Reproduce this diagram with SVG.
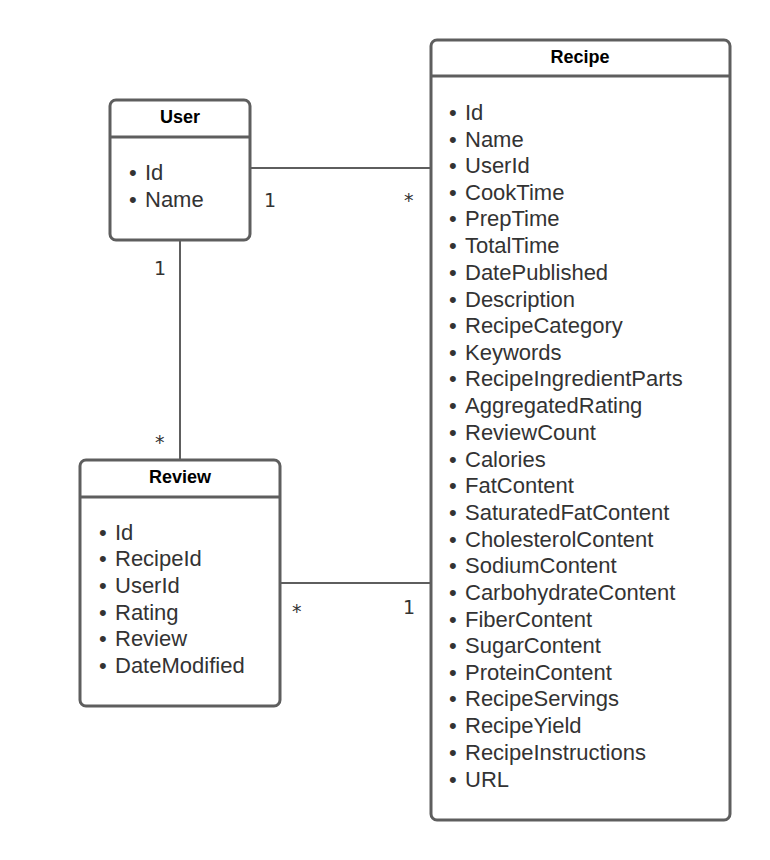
<svg xmlns="http://www.w3.org/2000/svg" width="770" height="860" viewBox="0 0 770 860">
  <style>
    .box { fill: #ffffff; stroke: #5e5e5e; stroke-width: 3; }
    .sep { stroke: #5e5e5e; stroke-width: 3; }
    .conn { stroke: #5e5e5e; stroke-width: 2; fill: none; }
    .title { font-family: "Liberation Sans", Arial, sans-serif; font-weight: bold; font-size: 18px; fill: #000; text-anchor: middle; }
    .item { font-family: "Liberation Sans", Arial, sans-serif; font-size: 22px; fill: #333; }
    .mult { font-family: "DejaVu Sans", sans-serif; font-size: 19px; fill: #333; }
  </style>
  <rect width="770" height="860" fill="#ffffff"/>

  <g id="connectors">
    <line class="conn" x1="250" y1="168" x2="431" y2="168"/>
    <line class="conn" x1="180" y1="240" x2="180" y2="460"/>
    <line class="conn" x1="280" y1="583" x2="431" y2="583"/>
    <text class="mult" x="264" y="207">1</text>
    <text class="mult" x="404" y="207">*</text>
    <text class="mult" x="154" y="275">1</text>
    <text class="mult" x="155" y="449">*</text>
    <text class="mult" x="292" y="618">*</text>
    <text class="mult" x="403" y="614">1</text>
  </g>

  <g id="user">
    <rect class="box" x="110" y="100" width="140" height="140" rx="6"/>
    <line class="sep" x1="110" y1="137" x2="250" y2="137"/>
    <text class="title" x="180" y="123">User</text>
    <g class="item">
      <text x="129" y="180">•</text><text x="145" y="180">Id</text>
      <text x="129" y="207">•</text><text x="145" y="207">Name</text>
    </g>
  </g>

  <g id="review">
    <rect class="box" x="80" y="460" width="200" height="246" rx="6"/>
    <line class="sep" x1="80" y1="497" x2="280" y2="497"/>
    <text class="title" x="180" y="483">Review</text>
    <g class="item">
      <text x="99" y="540">•</text><text x="115" y="540">Id</text>
      <text x="99" y="566">•</text><text x="115" y="566">RecipeId</text>
      <text x="99" y="593">•</text><text x="115" y="593">UserId</text>
      <text x="99" y="620">•</text><text x="115" y="620">Rating</text>
      <text x="99" y="646">•</text><text x="115" y="646">Review</text>
      <text x="99" y="673">•</text><text x="115" y="673">DateModified</text>
    </g>
  </g>

  <g id="recipe">
    <rect class="box" x="431" y="40" width="299" height="780" rx="6"/>
    <line class="sep" x1="431" y1="76" x2="730" y2="76"/>
    <text class="title" x="580" y="63">Recipe</text>
    <g class="item">
      <text x="449" y="120">•</text><text x="465" y="120">Id</text>
      <text x="449" y="147">•</text><text x="465" y="147">Name</text>
      <text x="449" y="173">•</text><text x="465" y="173">UserId</text>
      <text x="449" y="200">•</text><text x="465" y="200">CookTime</text>
      <text x="449" y="226">•</text><text x="465" y="226">PrepTime</text>
      <text x="449" y="253">•</text><text x="465" y="253">TotalTime</text>
      <text x="449" y="280">•</text><text x="465" y="280">DatePublished</text>
      <text x="449" y="307">•</text><text x="465" y="307">Description</text>
      <text x="449" y="333">•</text><text x="465" y="333">RecipeCategory</text>
      <text x="449" y="360">•</text><text x="465" y="360">Keywords</text>
      <text x="449" y="386">•</text><text x="465" y="386">RecipeIngredientParts</text>
      <text x="449" y="413">•</text><text x="465" y="413">AggregatedRating</text>
      <text x="449" y="440">•</text><text x="465" y="440">ReviewCount</text>
      <text x="449" y="467">•</text><text x="465" y="467">Calories</text>
      <text x="449" y="493">•</text><text x="465" y="493">FatContent</text>
      <text x="449" y="520">•</text><text x="465" y="520">SaturatedFatContent</text>
      <text x="449" y="547">•</text><text x="465" y="547">CholesterolContent</text>
      <text x="449" y="573">•</text><text x="465" y="573">SodiumContent</text>
      <text x="449" y="600">•</text><text x="465" y="600">CarbohydrateContent</text>
      <text x="449" y="627">•</text><text x="465" y="627">FiberContent</text>
      <text x="449" y="653">•</text><text x="465" y="653">SugarContent</text>
      <text x="449" y="680">•</text><text x="465" y="680">ProteinContent</text>
      <text x="449" y="706">•</text><text x="465" y="706">RecipeServings</text>
      <text x="449" y="733">•</text><text x="465" y="733">RecipeYield</text>
      <text x="449" y="760">•</text><text x="465" y="760">RecipeInstructions</text>
      <text x="449" y="787">•</text><text x="465" y="787">URL</text>
    </g>
  </g>
</svg>
